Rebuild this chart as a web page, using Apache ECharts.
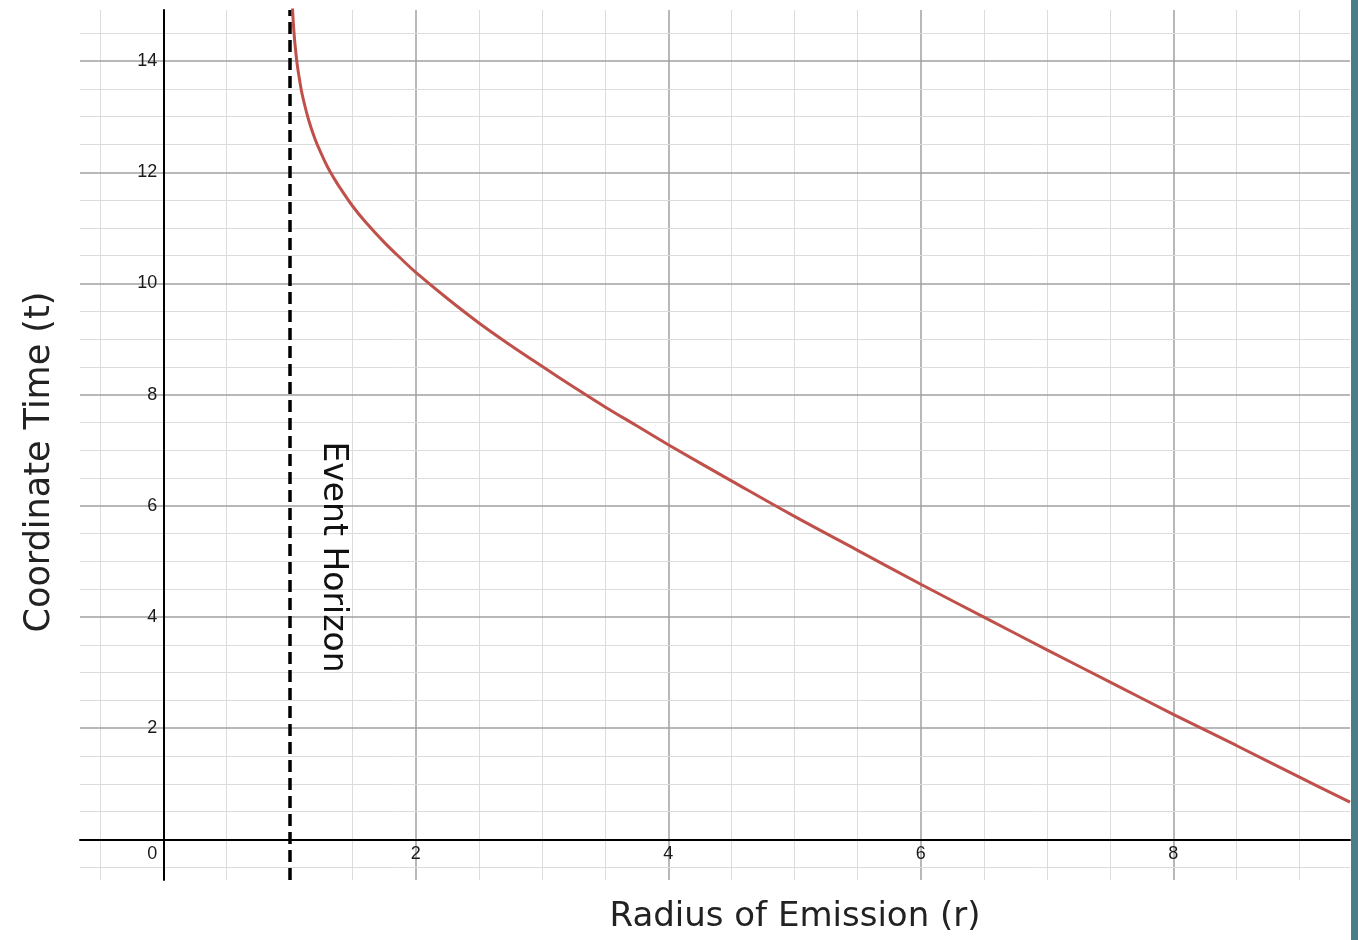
<!doctype html>
<html>
<head>
<meta charset="utf-8">
<title>Coordinate Time vs Radius of Emission</title>
<style>
  html, body { margin: 0; padding: 0; background: #fff; }
  #main { width: 1358px; height: 940px; }
</style>
</head>
<body>
<div id="main"></div>
<script src="https://cdn.jsdelivr.net/npm/echarts@6/dist/echarts.min.js"></script>
<script>
// values
var radius = [1.02, 1.03, 1.04, 1.05, 1.06, 1.08, 1.1, 1.15, 1.2, 1.25, 1.3, 1.35, 1.4, 1.5, 1.6, 1.75, 1.9,
              2, 2.25, 2.5, 2.75, 3, 3.25, 3.5, 3.75, 4, 4.5, 5, 5.5, 6, 6.5, 7, 7.5, 8, 8.5, 9, 9.4];
var coordTime = [15.09, 14.68, 14.38, 14.15, 13.95, 13.65, 13.40, 12.95, 12.61, 12.34, 12.10, 11.90, 11.72, 11.39, 11.11, 10.74, 10.41,
                 10.2, 9.73, 9.29, 8.89, 8.51, 8.14, 7.78, 7.44, 7.10, 6.45, 5.81, 5.20, 4.59, 4.00, 3.41, 2.83, 2.25, 1.69, 1.12, 0.67];
var xLabels = [0, 2, 4, 6, 8];
var yLabels = [2, 4, 6, 8, 10, 12, 14];
var horizonR = 1;

var xMin = -0.66, xMax = 9.4, yMin = -0.73, yMax = 14.92;
var gridLeft = 80, gridTop = 10, gridW = 1270, gridH = 870;

var chart = echarts.init(document.getElementById('main'));

// square grid every 0.5, darker every 2
function gridLines(dim, from, to) {
    var minor = [], major = [];
    for (var i = Math.round(from * 2); i <= Math.round(to * 2); i++) {
        var v = i / 2;
        if (v === 0) continue;
        if (dim === 'xAxis' && v === horizonR) continue;
        var isMajor = i % 4 === 0;
        var item = { lineStyle: { color: isMajor ? '#a0a0a0' : '#dcdcdc', width: isMajor ? 1.5 : 1, type: 'solid' } };
        item[dim] = v;
        (isMajor ? major : minor).push(item);
    }
    return minor.concat(major);
}

// the axes cross at the origin, so shift them in from the grid edges
var xOffset = -gridH * (0 - yMin) / (yMax - yMin);
var yOffset = -gridW * (0 - xMin) / (xMax - xMin);

var points = radius.map(function (r, i) { return [r, coordTime[i]]; });
var tickFont = 'Liberation Sans';

chart.setOption({
    animation: false,
    backgroundColor: '#fff',
    grid: { left: gridLeft, top: gridTop, width: gridW, height: gridH, containLabel: false },
    xAxis: {
        type: 'value', min: xMin, max: xMax, splitNumber: 5, z: 5,
        position: 'bottom', offset: xOffset,
        axisLine: { onZero: false, lineStyle: { color: '#000', width: 2 } },
        axisTick: { show: false },
        splitLine: { show: false },
        axisLabel: {
            margin: 6, fontFamily: tickFont, fontSize: 18, color: '#1a1a1a',
            showMinLabel: false, showMaxLabel: false,
            formatter: function (v) {
                if (xLabels.indexOf(v) < 0) return '';
                return v === 0 ? '{o|0}' : String(v);
            },
            rich: { o: { padding: [0, 22, 0, 0], fontFamily: tickFont, fontSize: 18, color: '#1a1a1a' } }
        }
    },
    yAxis: {
        type: 'value', min: yMin, max: yMax, splitNumber: 8, z: 5,
        position: 'left', offset: yOffset,
        axisLine: { onZero: false, lineStyle: { color: '#000', width: 2 } },
        axisTick: { show: false },
        splitLine: { show: false },
        axisLabel: {
            margin: 6, fontFamily: tickFont, fontSize: 18, color: '#1a1a1a',
            showMinLabel: false, showMaxLabel: false,
            formatter: function (v) { return yLabels.indexOf(v) < 0 ? '' : String(v); }
        }
    },
    graphic: [
        { type: 'text', x: 40, y: 462, rotation: Math.PI / 2, z: 10,
          style: { text: 'Coordinate Time (t)', font: '35px "DejaVu Sans"', fill: '#222', align: 'center', verticalAlign: 'middle' } },
        { type: 'text', x: 795, y: 917, z: 10,
          style: { text: 'Radius of Emission (r)', font: '34px "DejaVu Sans"', fill: '#222', align: 'center', verticalAlign: 'middle' } },
        { type: 'text', x: 333, y: 557, rotation: -Math.PI / 2, z: 10,
          style: { text: 'Event Horizon', font: '33px "DejaVu Sans"', fill: '#111', align: 'center', verticalAlign: 'middle' } },
        { type: 'rect', right: 0, top: 0, z: 20, shape: { width: 7, height: 940 }, style: { fill: '#4a7d88' } }
    ],
    series: [
        {
            type: 'line', data: [], z: 1, silent: true,
            markLine: {
                silent: true, symbol: ['none', 'none'], animation: false,
                label: { show: false }, emphasis: { disabled: true },
                data: gridLines('xAxis', -0.5, 9).concat(gridLines('yAxis', -0.5, 14.5))
            }
        },
        {
            type: 'line', data: points, z: 6, showSymbol: false, smooth: 0.4, clip: true,
            lineStyle: { color: '#c0504a', width: 3 }
        },
        {
            type: 'line', data: [], z: 7, silent: true,
            markLine: {
                silent: true, symbol: ['none', 'none'], animation: false,
                label: { show: false }, emphasis: { disabled: true },
                data: [{ xAxis: horizonR, lineStyle: { color: '#000', width: 3.5, type: [12, 6] } }]
            }
        }
    ]
});

window.onresize = chart.resize;
</script>
</body>
</html>
